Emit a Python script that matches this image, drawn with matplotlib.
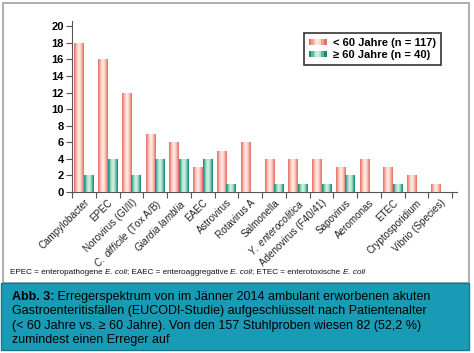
import numpy as np
import matplotlib
matplotlib.use("Agg")
import matplotlib.pyplot as plt
from matplotlib.patches import Rectangle
from matplotlib.legend_handler import HandlerBase

plt.rcParams['font.family'] = ['Liberation Sans', 'DejaVu Sans']
plt.rcParams['mathtext.fontset'] = 'custom'
plt.rcParams['mathtext.rm'] = 'Liberation Sans'
plt.rcParams['mathtext.it'] = 'Liberation Sans:italic'
plt.rcParams['mathtext.bf'] = 'Liberation Sans:bold'

# Data
erreger = ["Campylobacter", "EPEC", "Norovirus (GI/II)", r"$\mathit{C.\ difficile}$ (Tox A/B)",
           r"$\mathit{Giardia\ lamblia}$", "EAEC", "Astrovirus", "Rotavirus A", "Salmonella",
           r"$\mathit{Y.\ enterocolitica}$", "Adenovirus (F40/41)", "Sapovirus", "Aeromonas",
           "ETEC", "Cryptosporidium", "Vibrio (Species)"]
unter_60 = [18, 16, 12, 7, 6, 3, 5, 6, 4, 4, 4, 3, 4, 3, 2, 1]
ab_60 = [2, 4, 2, 4, 4, 4, 1, 0, 1, 1, 1, 2, 0, 1, 0, 0]
serien = ["< 60 Jahre (n = 117)", "\u2265 60 Jahre (n = 40)"]

red_edge, red_mid = np.array([0.90, 0.44, 0.40]), np.array([1.0, 0.91, 0.87])
teal_edge, teal_mid = np.array([0.08, 0.55, 0.44]), np.array([0.80, 0.94, 0.88])


def gradient(edge, mid, n=40):
    t = np.linspace(0, 1, n)
    w = np.sin(np.pi * t) ** 1.3
    return edge[None, :] * (1 - w[:, None]) + mid[None, :] * w[:, None]


fig = plt.figure(figsize=(4.74, 3.53), dpi=100)
ax = fig.add_axes([72 / 474, 1 - 192 / 353, 385 / 474, (192 - 20.5) / 353])

x = np.arange(len(erreger))
b1 = ax.bar(x + 0.3, unter_60, width=0.4, color=red_edge, zorder=2)
b2 = ax.bar(x + 0.7, ab_60, width=0.4, color=teal_edge, zorder=2)

# cylinder-like shading inside each bar
for bars, edge, mid in [(b1, red_edge, red_mid), (b2, teal_edge, teal_mid)]:
    g = gradient(edge, mid)[None, :, :]
    for p in bars:
        if p.get_height() <= 0:
            continue
        x0, y0, w, h = p.get_x(), p.get_y(), p.get_width(), p.get_height()
        im = ax.imshow(g, extent=[x0, x0 + w, y0, y0 + h], aspect='auto',
                       interpolation='bilinear', zorder=3)
        im.set_clip_path(p)

ax.set_xlim(0, 16.2)
ax.set_ylim(0, 20.7)
ax.set_aspect('auto')

ax.spines['top'].set_visible(False)
ax.spines['right'].set_visible(False)
for s in ['left', 'bottom']:
    ax.spines[s].set_color('#555555')
    ax.spines[s].set_linewidth(0.8)

ax.set_yticks(np.arange(0, 21, 2))
ax.tick_params(axis='y', direction='out', length=4, width=0.8, color='#555555', labelsize=8, pad=2)
for lbl in ax.get_yticklabels():
    lbl.set_fontweight('bold')

ax.set_xticks(np.arange(0, 17))
ax.set_xticklabels([])
ax.tick_params(axis='x', which='major', direction='out', length=4, width=0.8, color='#555555')
ax.set_xticks(x + 0.5, minor=True)
ax.set_xticklabels(erreger, minor=True, rotation=45, ha='right', va='top',
                   rotation_mode='anchor', fontsize=7.1, color='#222222')
ax.tick_params(axis='x', which='minor', length=0, pad=4)


class StripeHandler(HandlerBase):
    def __init__(self, edge, mid):
        super().__init__()
        self.cols = gradient(edge, mid, 7)

    def create_artists(self, legend, orig_handle, xdescent, ydescent, width, height, fontsize, trans):
        arts = []
        n = len(self.cols)
        for i, c in enumerate(self.cols):
            arts.append(Rectangle((-xdescent + i * width / n, -ydescent + height * 0.15),
                                  width / n + 0.3, height * 0.7, facecolor=c, edgecolor='none',
                                  transform=trans))
        return arts


h1 = Rectangle((0, 0), 1, 1)
h2 = Rectangle((0, 0), 1, 1)
leg = fig.legend([h1, h2], serien, loc='upper right', bbox_to_anchor=(441 / 474, 1 - 33 / 353),
                 handler_map={h1: StripeHandler(red_edge, red_mid), h2: StripeHandler(teal_edge, teal_mid)},
                 prop={'weight': 'bold', 'size': 8}, frameon=True, fancybox=False,
                 borderpad=0.45, handlelength=1.6, handletextpad=0.6, labelspacing=0.15,
                 borderaxespad=0)
leg.get_frame().set_edgecolor('black')
leg.get_frame().set_linewidth(1.2)

# outer frame and caption box
fig.patches.append(Rectangle((3 / 474, 1 - 283 / 353), 466 / 474, 280 / 353, transform=fig.transFigure,
                             facecolor='none', edgecolor='#a0a0a0', linewidth=1.2, zorder=0))
fig.patches.append(Rectangle((1 / 474, 1 - 350 / 353), 468 / 474, 67 / 353, transform=fig.transFigure,
                             facecolor='#199bb5', edgecolor='#16788a', linewidth=1.0, zorder=1))

renderer = fig.canvas.get_renderer()


def mixed_line(x0, y, parts, size, color):
    # parts: list of (text, style, weight); placed one after another
    xpos = x0
    for txt, style, weight in parts:
        t = fig.text(xpos, y, txt, fontsize=size, style=style, fontweight=weight,
                     va='center', color=color)
        bb = t.get_window_extent(renderer)
        xpos += bb.width / fig.bbox.width


footnote = [("EPEC = enteropathogene ", 'normal', 'normal'), ("E. coli", 'italic', 'normal'),
            ("; EAEC = enteroaggregative ", 'normal', 'normal'), ("E. coli", 'italic', 'normal'),
            ("; ETEC = enterotoxische ", 'normal', 'normal'), ("E. coli", 'italic', 'normal')]
mixed_line(10 / 474, 1 - 272 / 353, footnote, 5.9, '#111111')

caption = [[("Abb. 3:", 'normal', 'bold'),
            (" Erregerspektrum von im Jänner 2014 ambulant erworbenen akuten", 'normal', 'normal')],
           [("Gastroenteritisfällen (EUCODI-Studie) aufgeschlüsselt nach Patientenalter", 'normal', 'normal')],
           [("(< 60 Jahre vs. \u2265 60 Jahre). Von den 157 Stuhlproben wiesen 82 (52,2 %)", 'normal', 'normal')],
           [("zumindest einen Erreger auf", 'normal', 'normal')]]
for i, line in enumerate(caption):
    mixed_line(12 / 474, 1 - (297 + i * 14.3) / 353, line, 9, 'black')

fig.savefig("out.png", dpi=100)
